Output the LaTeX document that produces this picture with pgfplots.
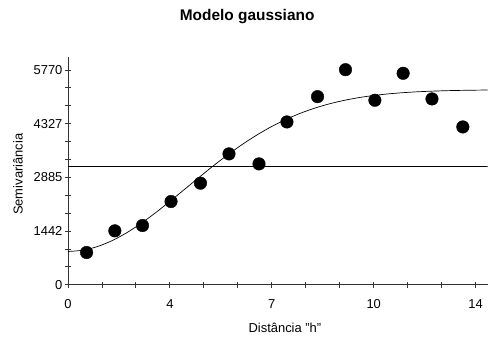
\documentclass[border=0pt]{standalone}
\usepackage{fontspec}
\setmainfont{Liberation Sans}
\usepackage{pgfplots}
\pgfplotsset{compat=1.18}
\begin{document}
\begin{tikzpicture}
\begin{axis}[
  scale only axis,
  width=420bp, height=228bp,
  xmin=0, xmax=14.41,
  ymin=0, ymax=6120,
  axis lines=left,
  axis line style={-, black!80, line width=0.8pt},
  xtick={0,3.5,7,10.5,14},
  xticklabels={0,4,7,10,14},
  ytick={0,1442.5,2885,4327.5,5770},
  yticklabels={0,1442,2885,4327,5770},
  minor x tick num=2,
  minor y tick num=2,
  tick align=center,
  major tick length=6bp,
  minor tick length=6bp,
  tick style={black!80, line width=0.8pt},
  /pgf/number format/assume math mode=true,
  ticklabel style={font=\fontsize{13}{15}\selectfont},
  xticklabel style={yshift=-8bp},
  yticklabel style={xshift=1bp},
  xlabel={Distância "h"},
  ylabel={Semivariância},
  label style={font=\fontsize{13}{15}\selectfont},
  xlabel style={at={(axis description cs:0.517,0)}, anchor=center, yshift=-43bp},
  ylabel style={at={(axis description cs:-0.119,0.485)}, anchor=center, rotate=0},
  title={Modelo gaussiano},
  title style={font=\fontsize{15.5}{18}\selectfont\bfseries, at={(axis description cs:0.427,1)}, anchor=center, yshift=34bp},
  clip=true,
]
\addplot[black, line width=0.7pt] coordinates {(0,3193) (14.41,3193)};
\addplot[black, line width=0.7pt, smooth] coordinates {
(0,894) (0.5,927) (1,1023) (1.5,1180) (2,1389) (2.5,1643) (3,1930)
(3.5,2240) (4,2561) (4.5,2884) (5,3200) (5.5,3499) (6,3777) (6.5,4029)
(7,4253) (7.5,4447) (8,4613) (8.5,4751) (9,4865) (9.5,4956) (10,5029)
(10.5,5085) (11,5128) (11.5,5160) (12,5184) (12.5,5201) (13,5214)
(13.5,5222) (14,5228) (14.5,5232)};
\addplot[only marks, mark=*, mark size=6.3bp, black] coordinates {
(0.64,867) (1.61,1449) (2.56,1592) (3.54,2236) (4.55,2729) (5.53,3516)
(6.56,3247) (7.52,4374) (8.57,5054) (9.53,5778) (10.54,4957)
(11.51,5681) (12.50,4992) (13.56,4240)};
\end{axis}
\path[use as bounding box] (-68bp,-53bp) rectangle (420bp,285bp);
\end{tikzpicture}
\end{document}
